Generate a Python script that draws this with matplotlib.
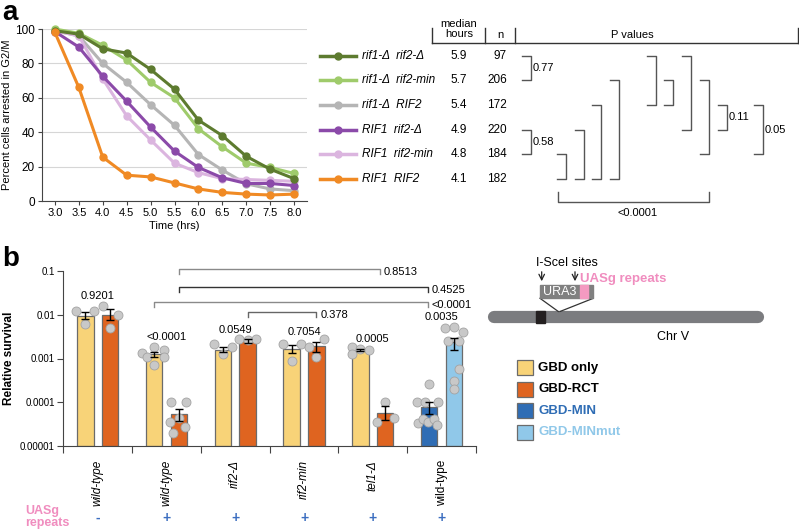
import numpy as np
import matplotlib.pyplot as plt
from matplotlib.patches import Rectangle

plt.rcParams['font.family'] = ['Liberation Sans', 'DejaVu Sans']

# ---- panel a: G2/M arrest time course ----
hours = [3.0, 3.5, 4.0, 4.5, 5.0, 5.5, 6.0, 6.5, 7.0, 7.5, 8.0]
rif1d_rif2d = [99, 97, 88.5, 86, 76.5, 65, 47, 38, 26, 18.5, 13]
rif1d_rif2min = [100, 97.5, 90.5, 82, 69, 60, 42, 31.5, 22, 19.5, 16]
rif1d_RIF2 = [99, 96, 80, 69, 56, 44, 27, 18, 10, 7, 6]
RIF1_rif2d = [98.5, 89.5, 72.5, 58, 43, 29, 19.5, 13.5, 10.2, 10.2, 9]
RIF1_rif2min = [99, 96, 71, 49.5, 35.5, 22, 16.5, 13, 12.5, 12, 11.5]
RIF1_RIF2 = [98, 66, 25.5, 15, 14, 10.5, 7, 5, 4, 3.5, 4]

strains = ['rif1-Δ  rif2-Δ', 'rif1-Δ  rif2-min', 'rif1-Δ  RIF2',
           'RIF1  rif2-Δ', 'RIF1  rif2-min', 'RIF1  RIF2']
median_hours = ['5.9', '5.7', '5.4', '4.9', '4.8', '4.1']
n_cells = [97, 206, 172, 220, 184, 182]
strain_colors = ['#5d7b2f', '#9fcb6b', '#b5b5b5', '#8b4aa9', '#dbb5df', '#f08a24']

# pairwise P values (row a, row b, label)
p_pairs = [(0, 1, '0.77'), (3, 4, '0.58'), (4, 5, ''), (3, 5, ''), (2, 5, ''),
           (1, 5, ''), (0, 2, ''), (1, 2, ''), (0, 3, ''), (1, 4, ''),
           (2, 3, '0.11'), (2, 4, '0.05')]
p_x = [522, 522, 557, 575, 592, 610, 647, 664, 682, 700, 718, 754]

# ---- panel b: relative survival ----
genotypes = ['wild-type', 'wild-type', 'rif2-Δ', 'rif2-min', 'tel1-Δ', 'wild-type']
uasg = ['-', '+', '+', '+', '+', '+']
left_mean = [0.0095, 0.00128, 0.0016, 0.00166, 0.00158, 7.8e-5]
left_lo = [0.0078, 0.00111, 0.00144, 0.00131, 0.00146, 5.3e-5]
left_hi = [0.0115, 0.00144, 0.00187, 0.00208, 0.00166, 1.02e-4]
right_mean = [0.0100, 5.3e-5, 0.0025, 0.0019, 5.8e-5, 0.00234]
right_lo = [0.0076, 3.8e-5, 0.00224, 0.00139, 3.9e-5, 0.0016]
right_hi = [0.0132, 6.9e-5, 0.0028, 0.00235, 8.1e-5, 0.0029]

left_dots = [[0.0119, 0.0062, 0.0119],
             [0.00137, 0.00188, 0.00158, 0.00107, 0.00071, 0.00107],
             [0.0021, 0.00128, 0.00182],
             [0.0021, 0.0009, 0.0021],
             [0.00182, 0.00128, 0.00166, 0.00158],
             [2.66e-4, 1.02e-4, 1.02e-4, 1.02e-4, 3.4e-5, 4.25e-5, 3.6e-5, 4.25e-5, 3.0e-5]]
left_jit = [[-0.135, 0, 0.122],
            [-0.169, 0, 0.151, -0.102, 0, 0.151],
            [-0.126, 0, 0.131],
            [-0.122, 0, 0.131],
            [-0.116, -0.116, 0, 0.126],
            [0, -0.18, -0.058, 0.121, -0.156, -0.093, -0.02, 0.063, 0.11]]
right_dots = [[0.0155, 0.0051, 0.0100],
              [1.02e-4, 1.02e-4, 3.56e-5, 4.26e-5, 2.74e-5, 2.0e-5],
              [0.0028, 0.0027, 0.0028],
              [0.00182, 0.00111, 0.0028],
              [1.02e-4, 3.5e-5, 4.4e-5],
              [0.0051, 0.0053, 0.0040, 0.00246, 0.00246, 0.00058, 0.000305, 0.000205]]
right_jit = [[-0.108, 0, 0.116],
             [-0.11, 0.097, -0.135, 0, 0.083, -0.087],
             [-0.126, 0, 0.126],
             [-0.102, 0, 0.116],
             [0, -0.126, 0.125],
             [-0.125, 0, 0.131, -0.087, 0.073, 0.073, 0, 0]]

group_p = ['0.9201', '<0.0001', '0.0549', '0.7054', '0.0005', '0.0035']
group_p_log = [-1.57, -2.5, -2.35, -2.40, -2.55, -2.06]

# comparisons across groups: x1, x2, log y, label, colour
comparisons = [(1.68, 4.6, -0.955, '0.8513', '#8a8a8a'),
               (1.68, 5.3, -1.36, '0.4525', '#333333'),
               (1.32, 5.3, -1.71, '<0.0001', '#8a8a8a'),
               (2.68, 3.68, -1.94, '0.378', '#666666')]

legend_labels = ['GBD only', 'GBD-RCT', 'GBD-MIN', 'GBD-MINmut']
left_colors = ['#f8d378'] * 5 + ['#2f6db5']
right_colors = ['#df6420'] * 5 + ['#90c8e9']
legend_colors = ['#f8d378', '#df6420', '#2f6db5', '#90c8e9']
legend_text_colors = ['black', 'black', '#2f6db5', '#90c8e9']

W, H = 799, 529
fig = plt.figure(figsize=(W / 100, H / 100), dpi=100)


def fax(l, t, r, b):
    return [l / W, 1 - b / H, (r - l) / W, (b - t) / H]


# overlay axes in pixel coordinates for table, brackets and diagram
ax_o = fig.add_axes([0, 0, 1, 1])
ax_o.set_xlim(0, W)
ax_o.set_ylim(H, 0)
ax_o.axis('off')

# ---------- panel a ----------
ax_a = fig.add_axes(fax(42, 29, 307, 201))
series = [rif1d_rif2d, rif1d_rif2min, rif1d_RIF2, RIF1_rif2d, RIF1_rif2min, RIF1_RIF2]
for i in [2, 4, 3, 1, 0, 5]:
    ax_a.plot(hours, series[i], color=strain_colors[i], lw=2.2, marker='o',
              ms=5, clip_on=False, zorder=3)
ax_a.set_xlim(2.73, 8.27)
ax_a.set_ylim(0, 100)
ax_a.set_xticks(hours)
ax_a.set_xticklabels([f'{h:.1f}' for h in hours])
ax_a.set_yticks([0, 20, 40, 60, 80, 100])
ax_a.yaxis.grid(True, color='#d6d6d6', lw=0.8)
ax_a.set_axisbelow(True)
for s in ['top', 'right']:
    ax_a.spines[s].set_visible(False)
for s in ['left', 'bottom']:
    ax_a.spines[s].set_color('#444444')
ax_a.tick_params(axis='x', labelsize=8, length=3, color='#444444', pad=2)
ax_a.tick_params(axis='y', labelsize=8.5, length=3, color='#444444', pad=2)
ax_a.set_xlabel('Time (hrs)', fontsize=8, labelpad=2)
ax_a.set_ylabel('Percent cells arrested in G2/M', fontsize=8, labelpad=2)

ax_o.text(2, 0, 'a', fontsize=20, fontweight='bold', va='top', ha='left')

# legend table
row0, dy = 55.7, 24.65
rows_y = [row0 + i * dy for i in range(len(strains))]
for i, name in enumerate(strains):
    y = rows_y[i]
    ax_o.plot([320, 356], [y, y], color=strain_colors[i], lw=2.5)
    ax_o.plot([338], [y], 'o', color=strain_colors[i], ms=5)
    ax_o.text(362, y, name, fontsize=8.5, style='italic', va='center', ha='left')
    ax_o.text(459, y, median_hours[i], fontsize=8.5, va='center', ha='center')
    ax_o.text(507, y, str(n_cells[i]), fontsize=8.5, va='center', ha='right')

ax_o.text(459, 29, 'median\nhours', fontsize=8, ha='center', va='center',
          linespacing=1.0)
ax_o.text(500, 35, 'n', fontsize=8, ha='center', va='center')
ax_o.text(632, 35, 'P values', fontsize=8, ha='center', va='center')
ax_o.plot([432, 798], [43.3, 43.3], color='#333333', lw=1)
for xv in [432, 485, 515, 798]:
    ax_o.plot([xv, xv], [28, 43.3], color='#333333', lw=1)

for (ra, rb, lab), xl in zip(p_pairs, p_x):
    ya, yb = rows_y[ra], rows_y[rb]
    xr = xl + 9
    ax_o.plot([xl, xr, xr, xl], [ya, ya, yb, yb], color='#555555', lw=1)
    if lab:
        ax_o.text(xr + 1.5, (ya + yb) / 2, lab, fontsize=8, va='center', ha='left')
ax_o.plot([558, 558, 709.3, 709.3], [192, 201.7, 201.7, 192], color='#555555', lw=1)
ax_o.text(638, 213, '<0.0001', fontsize=8, ha='center', va='center')

# ---------- panel b ----------
ax_b = fig.add_axes(fax(63.3, 271, 476, 446))
ax_b.set_yscale('log')
ax_b.set_ylim(1e-5, 0.1)
ax_b.set_xlim(0, 6)
centers = np.arange(len(genotypes)) + 0.5
off, bw = 0.18, 0.24
floor = 1e-5
for xs, means, lo, hi, cols, dots, jit in [
        (centers - off, left_mean, left_lo, left_hi, left_colors, left_dots, left_jit),
        (centers + off, right_mean, right_lo, right_hi, right_colors, right_dots, right_jit)]:
    means = np.array(means)
    ax_b.bar(xs, means - floor, bottom=floor, width=bw, color=cols,
             edgecolor='#6b6b6b', lw=0.9, zorder=2)
    ax_b.errorbar(xs, means, yerr=[means - np.array(lo), np.array(hi) - means],
                  fmt='none', ecolor='black', elinewidth=1, capsize=3,
                  capthick=1, zorder=4)
    for x, d, j in zip(xs, dots, jit):
        ax_b.scatter(x + np.array(j), d, s=42, color='#c8c8c8',
                     edgecolor='#a3a3a3', lw=0.6, zorder=3, clip_on=False)

ax_b.set_yticks([1e-5, 1e-4, 1e-3, 1e-2, 1e-1])
ax_b.set_yticklabels(['0.00001', '0.0001', '0.001', '0.01', '0.1'])
ax_b.yaxis.set_minor_locator(plt.NullLocator())
ax_b.set_xticks(np.arange(0, 7))
ax_b.set_xticklabels([])
ax_b.set_xticks(centers, minor=True)
ax_b.set_xticklabels(genotypes, minor=True, rotation=90, fontsize=8.5,
                     va='top', ha='center')
for k, t in enumerate(ax_b.get_xticklabels(minor=True)):
    if k < 5:
        t.set_style('italic')
ax_b.tick_params(axis='x', which='minor', length=0, pad=10)
ax_b.tick_params(axis='x', which='major', length=5, color='#444444')
ax_b.tick_params(axis='y', labelsize=7, length=4, color='#444444', pad=2)
for s in ['top', 'right']:
    ax_b.spines[s].set_visible(False)
for s in ['left', 'bottom']:
    ax_b.spines[s].set_color('#444444')
ax_b.set_ylabel('Relative survival', fontsize=8.5, fontweight='bold', labelpad=4)

for x, lab, ly in zip(centers, group_p, group_p_log):
    ax_b.text(x, 10 ** ly, lab, fontsize=8, ha='center', va='center', clip_on=False)

for x1, x2, ly, lab, col in comparisons:
    y = 10 ** ly
    yt = 10 ** (ly - 0.11)
    ax_b.plot([x1, x1, x2, x2], [yt, y, y, yt], color=col, lw=1, clip_on=False)
    ax_b.text(x2 + 0.06, 10 ** (ly - 0.07), lab, fontsize=8, ha='left',
              va='center', clip_on=False)

ax_o.text(2, 246, 'b', fontsize=20, fontweight='bold', va='top', ha='left')

# UASg repeats row
ax_o.text(25, 517, 'UASg\nrepeats', fontsize=9, fontweight='bold',
          color='#f08dbf', ha='left', va='center', linespacing=0.95)
for x, sign in zip(centers, uasg):
    px = 63.3 + x * 68.8
    ax_o.text(px, 518, sign, fontsize=10, fontweight='bold', color='#3c6ec0',
              ha='center', va='center')

# chromosome diagram
ax_o.plot([494, 758], [317, 317], color='#7b7c7f', lw=8.8, solid_capstyle='round')
ax_o.add_patch(Rectangle((536, 311), 9, 12, color='#231f20', zorder=3))
ax_o.plot([540, 558.3], [298.3, 311.5], color='#333333', lw=0.9)
ax_o.plot([593.3, 560], [298.3, 311.5], color='#333333', lw=0.9)
ax_o.add_patch(Rectangle((540, 285), 53.3, 13.3, color='#808080', zorder=3))
ax_o.add_patch(Rectangle((580, 285), 8.3, 13.3, color='#f49ac1', zorder=4))
ax_o.text(560, 292, 'URA3', color='white', fontsize=9, ha='center', va='center',
          zorder=5)
ax_o.text(566.7, 263.3, 'I-SceI sites', fontsize=9, ha='center', va='center')
for ax_x in [541.7, 575]:
    ax_o.annotate('', xy=(ax_x, 284), xytext=(ax_x, 269),
                  arrowprops=dict(arrowstyle='->', lw=0.9, color='#222222'))
ax_o.text(580.5, 279, 'UASg repeats', fontsize=9.5, fontweight='bold',
          color='#f08dbf', ha='left', va='center')
ax_o.text(673, 337, 'Chr V', fontsize=9, ha='center', va='center')

# legend
for i, lab in enumerate(legend_labels):
    yt = 360 + i * 21.5
    ax_o.add_patch(Rectangle((517, yt), 16, 15, facecolor=legend_colors[i],
                             edgecolor='#6b6b6b', lw=0.9))
    ax_o.text(538.5, yt + 7.5, lab, fontsize=9.5, fontweight='bold',
              color=legend_text_colors[i], ha='left', va='center')

fig.savefig('out.png', dpi=100)
